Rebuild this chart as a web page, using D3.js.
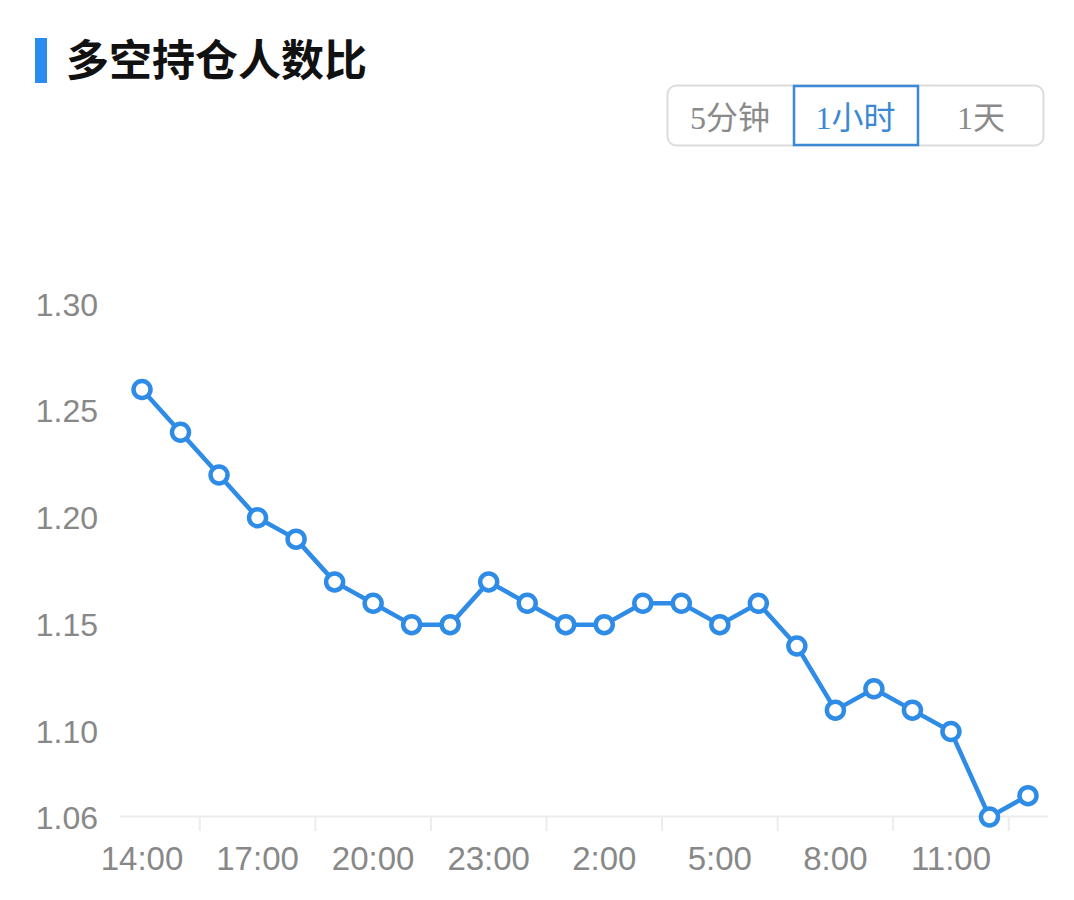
<!DOCTYPE html>
<html><head><meta charset="utf-8">
<script src="https://cdn.jsdelivr.net/npm/d3@7"></script>
<style>
html,body{margin:0;padding:0;background:#fff;}
svg{display:block;}
</style></head>
<body>
<svg id="chart" width="1074" height="900"></svg>
<script>
const title = "多空持仓人数比";
const buttons = ["5分钟", "1小时", "1天"];
const selectedButton = "1小时";
const categories = ["14:00","15:00","16:00","17:00","18:00","19:00","20:00","21:00","22:00","23:00","0:00","1:00","2:00","3:00","4:00","5:00","6:00","7:00","8:00","9:00","10:00","11:00","12:00","13:00"];
const values = [1.26,1.24,1.22,1.20,1.19,1.17,1.16,1.15,1.15,1.17,1.16,1.15,1.15,1.16,1.16,1.15,1.16,1.14,1.11,1.12,1.11,1.10,1.06,1.07];
const yTicks = [1.06,1.10,1.15,1.20,1.25,1.30];
const xLabels = ["14:00","17:00","20:00","23:00","2:00","5:00","8:00","11:00"];

const svg = d3.select("#chart");
const blue = "#2f8ce6";

// title
svg.append("rect").attr("x",35).attr("y",38).attr("width",12).attr("height",45).attr("fill","#2a8cf0");
svg.append("text").attr("x",66).attr("y",76).text(title)
  .attr("font-family","'Noto Sans CJK SC', sans-serif").attr("font-weight","bold")
  .attr("font-size",43).attr("fill","#111");

// buttons
const bx = d3.scaleOrdinal().domain(buttons).range([667,793,918]);
const bw = {"5分钟":126,"1小时":125,"1天":126};
svg.append("rect").attr("x",667.5).attr("y",85.5).attr("width",376).attr("height",60)
  .attr("rx",9).attr("fill","#fff").attr("stroke","#dcdcdc").attr("stroke-width",2);
buttons.forEach(b=>{
  const sel = b===selectedButton;
  if(sel){
    svg.append("rect").attr("x",bx(b)+1).attr("y",86).attr("width",bw[b]-1).attr("height",59)
      .attr("fill","#fff").attr("stroke","#3b88d4").attr("stroke-width",2.5);
  }
  svg.append("text").attr("x",bx(b)+bw[b]/2).attr("y",117).attr("dy","0.36em")
    .attr("text-anchor","middle").text(b)
    .attr("font-family","'Liberation Serif','Noto Sans CJK SC', serif")
    .attr("font-size",32).attr("fill",sel?"#3b88d4":"#8a8a8a");
});

// scales
const x = d3.scalePoint().domain(categories).range([142,1028]);
const y = d3.scaleLinear().domain([1.06,1.30]).range([817,304]);
const step = x.step();

// axis line
svg.append("line").attr("x1",120).attr("x2",1048).attr("y1",816.5).attr("y2",816.5)
  .attr("stroke","#ececec").attr("stroke-width",2);
// ticks between categories
categories.forEach((c,i)=>{
  if(i%3===1){
    const tx = x(c)+step/2;
    svg.append("line").attr("x1",tx).attr("x2",tx).attr("y1",817).attr("y2",831)
      .attr("stroke","#ececec").attr("stroke-width",2);
  }
});

// y labels
svg.append("g").selectAll("text").data(yTicks).join("text")
  .attr("x",98).attr("y",d=>y(d)).attr("dy","0.36em").attr("text-anchor","end")
  .text(d=>d3.format(".2f")(d))
  .attr("font-family","'Liberation Sans', Arial, sans-serif").attr("font-size",32).attr("fill","#888");

// x labels
svg.append("g").selectAll("text").data(xLabels).join("text")
  .attr("x",d=>x(d)).attr("y",870).attr("text-anchor","middle").text(d=>d)
  .attr("font-family","'Liberation Sans', Arial, sans-serif").attr("font-size",33).attr("fill","#888");

// line
const line = d3.line().x((d,i)=>x(categories[i])).y(d=>y(d));
svg.append("path").datum(values).attr("d",line).attr("fill","none")
  .attr("stroke",blue).attr("stroke-width",4.5).attr("stroke-linejoin","round");
svg.append("g").selectAll("circle").data(values).join("circle")
  .attr("cx",(d,i)=>x(categories[i])).attr("cy",d=>y(d)).attr("r",8.5)
  .attr("fill","#fff").attr("stroke",blue).attr("stroke-width",4.5);
</script>
</body></html>
